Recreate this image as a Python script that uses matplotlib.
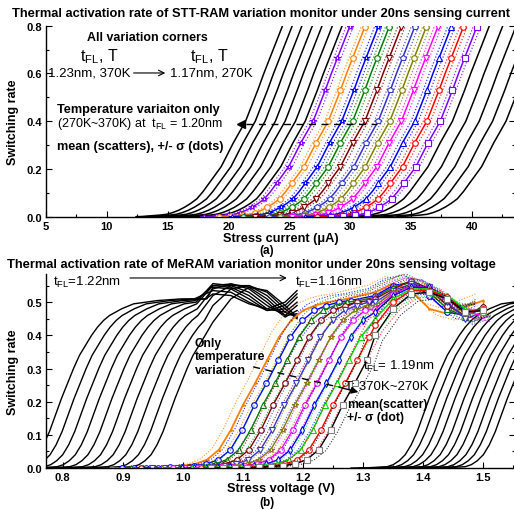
import numpy as np
import matplotlib.pyplot as plt
from matplotlib.ticker import MultipleLocator, FormatStrFormatter

plt.rcParams['font.family'] = ['Liberation Sans', 'DejaVu Sans']

# ---------------- (a) STT-RAM ----------------
# curve shape, offsets from its 0.4 crossing (uA)
a_dx = [-9.0, -8.5, -8.0, -7.5, -7.0, -6.5, -6.0, -5.5, -5.0, -4.5, -4.0, -3.5, -3.0, -2.5,
        -2.0, -1.5, -1.0, -0.5, 0.0, 0.5, 1.0, 1.5, 2.0, 2.5, 3.0, 3.5, 4.0]
a_rate = [0.0, 0.001, 0.003, 0.005, 0.007, 0.01, 0.017, 0.027, 0.04, 0.056, 0.075, 0.105, 0.14, 0.175,
          0.21, 0.26, 0.31, 0.355, 0.40, 0.465, 0.53, 0.60, 0.665, 0.73, 0.795, 0.86, 0.92]
# current where each curve crosses 0.4
a_black_left = [21.4, 22.2, 23.0, 23.85, 24.65, 25.5, 26.3]
a_black_right = [38.4, 39.5, 40.6, 41.7, 42.8]
a_temp_mid = [26.95, 28.2, 29.3, 30.2, 31.2, 32.3, 33.25, 34.2, 35.3, 36.3, 37.4]
a_sigma = 0.3
a_colors = ['#8000FF', '#FF8000', '#0000FF', '#008000', '#800000', '#3333CC',
            '#808000', '#FF00FF', '#0000FF', '#FF0000', '#8000FF']
a_markers = ['*', 'o', '*', 'o', 'v', 'p', 'o', 'v', '^', 'o', 's']

# ---------------- (b) MeRAM ----------------
# black curve shape, offsets from 0.3 crossing (V)
b_dx = [-0.15, -0.12, -0.09, -0.08, -0.07, -0.06, -0.05, -0.04, -0.03, -0.02, -0.01, 0.0,
        0.01, 0.02, 0.03, 0.04, 0.05, 0.06, 0.08, 0.10, 0.12, 0.14, 0.18, 0.22]
b_rate = [0.0, 0.001, 0.004, 0.01, 0.022, 0.04, 0.07, 0.11, 0.16, 0.21, 0.255, 0.30,
          0.34, 0.37, 0.40, 0.425, 0.445, 0.46, 0.48, 0.495, 0.50, 0.505, 0.51, 0.51]
b_black_left = [0.818, 0.839, 0.860, 0.881, 0.902, 0.923, 0.944, 0.965, 0.986, 1.007]
b_black_right = [1.430, 1.444, 1.459, 1.473, 1.488, 1.502, 1.516, 1.531, 1.545, 1.560]
b_knot_x = [1.05, 1.08, 1.11, 1.14, 1.17, 1.19]
b_tail_0 = [0.525, 0.52, 0.495, 0.48, 0.50, 0.535]
b_tail_1 = [0.535, 0.53, 0.50, 0.475, 0.49, 0.525]
b_tail_2 = [0.545, 0.54, 0.51, 0.475, 0.48, 0.515]
b_tail_3 = [0.55, 0.545, 0.52, 0.48, 0.47, 0.50]
b_tail_4 = [0.556, 0.55, 0.53, 0.49, 0.46, 0.49]
b_tail_5 = [0.55, 0.555, 0.54, 0.50, 0.455, 0.475]
b_tail_6 = [0.54, 0.555, 0.545, 0.51, 0.46, 0.465]
b_tail_7 = [0.52, 0.55, 0.55, 0.52, 0.47, 0.455]
b_tail_8 = [0.49, 0.54, 0.55, 0.53, 0.48, 0.45]
b_tail_9 = [0.44, 0.51, 0.545, 0.535, 0.49, 0.455]
b_tails = [b_tail_0, b_tail_1, b_tail_2, b_tail_3, b_tail_4,
           b_tail_5, b_tail_6, b_tail_7, b_tail_8, b_tail_9]

# temperature-only curves: rise offsets from 0.25 crossing, then their own tails
c_dx = [-0.24, -0.22, -0.20, -0.18, -0.16, -0.14, -0.12, -0.10, -0.08, -0.06,
        -0.04, -0.02, 0.0, 0.02, 0.04, 0.06, 0.08, 0.10, 0.12, 0.14]
c_rate = [0.0, 0.0, 0.0, 0.001, 0.002, 0.004, 0.007, 0.012, 0.025, 0.055,
          0.115, 0.19, 0.255, 0.325, 0.395, 0.445, 0.475, 0.49, 0.50, 0.505]
c_mid = [1.120, 1.139, 1.153, 1.170, 1.189, 1.206, 1.223, 1.239, 1.256, 1.270, 1.286]
c_knot_x = [1.32, 1.35, 1.38, 1.41, 1.44, 1.47, 1.50]
c_tails = [
    [0.53, 0.556, 0.535, 0.48, 0.465, 0.485, 0.505],
    [0.52, 0.55, 0.56, 0.52, 0.47, 0.46, 0.48],
    [0.515, 0.545, 0.56, 0.53, 0.48, 0.455, 0.49],
    [0.51, 0.54, 0.565, 0.54, 0.49, 0.46, 0.485],
    [0.50, 0.535, 0.555, 0.545, 0.50, 0.45, 0.47],
    [0.49, 0.53, 0.55, 0.54, 0.51, 0.465, 0.48],
    [0.48, 0.525, 0.55, 0.545, 0.51, 0.47, 0.46],
    [0.47, 0.52, 0.545, 0.545, 0.515, 0.475, 0.475],
    [0.45, 0.51, 0.54, 0.54, 0.52, 0.48, 0.47],
    [0.43, 0.50, 0.535, 0.535, 0.515, 0.47, 0.48],
    [0.40, 0.48, 0.525, 0.53, 0.51, 0.47, 0.475],
]
c_colors = ['#FF8000', '#0000FF', '#008000', '#800000', '#3333CC', '#808000',
            '#FF00FF', '#0000FF', '#00DD00', '#FF0000', '#000000']
c_markers = ['.', 'o', '^', 'o', 'v', '*', 'o', 'd', '^', 'o', 's']


def shifted(dx, rate, x0):
    return np.asarray(dx) + x0, np.asarray(rate)


def joined(dx, rate, x0, knot_x, knot_y):
    x = np.asarray(dx) + x0
    keep = x < knot_x[0] - 0.008
    return np.r_[x[keep], knot_x], np.r_[np.asarray(rate)[keep], knot_y]


fig = plt.figure(figsize=(5.14, 5.10), dpi=100)
ax1 = fig.add_axes([46 / 514, 1 - 217.7 / 510, (515 - 46) / 514, (217.7 - 26.7) / 510])
ax2 = fig.add_axes([46 / 514, 1 - 469 / 510, (515 - 46) / 514, (469 - 275) / 510])

# ---- (a) ----
for x0 in a_black_left + a_black_right:
    x, y = shifted(a_dx, a_rate, x0)
    ax1.plot(x, y, color='black', lw=1.1)
for x0, c, m in zip(a_temp_mid, a_colors, a_markers):
    x, y = shifted(a_dx, a_rate, x0)
    ax1.plot(x - a_sigma, y, ls=(0, (1, 1.5)), color=c, lw=0.9, alpha=0.8)
    ax1.plot(x + a_sigma, y, ls=(0, (1, 1.5)), color=c, lw=0.9, alpha=0.8)
    ax1.plot(x, y, color=c, lw=1.1, marker=m, ms=4, mfc='white', mec=c, mew=0.8, markevery=2)

ax1.set_xlim(5, 43.54)
ax1.set_ylim(0, 0.8)
ax1.xaxis.set_major_locator(MultipleLocator(5))
ax1.xaxis.set_minor_locator(MultipleLocator(2.5))
ax1.yaxis.set_major_locator(MultipleLocator(0.2))
ax1.yaxis.set_minor_locator(MultipleLocator(0.1))
ax1.yaxis.set_major_formatter(FormatStrFormatter('%.1f'))
ax1.set_xlabel('Stress current (\u03bcA)', fontsize=9.2, fontweight='bold', labelpad=1)
ax1.set_ylabel('Switching rate', fontsize=9, fontweight='bold')

ax1.text(13.3, 0.753, 'All variation corners', fontsize=8.9, fontweight='bold', ha='center', va='center')
ax1.text(7.8, 0.673, r'$\mathregular{t_{FL}}$, T', fontsize=11.5, va='center')
ax1.text(16.8, 0.673, r'$\mathregular{t_{FL}}$, T', fontsize=11.5, va='center')
ax1.text(5.15, 0.602, '1.23nm, 370K', fontsize=9.5, va='center')
ax1.annotate('', xy=(14.8, 0.602), xytext=(12.2, 0.602),
             arrowprops=dict(arrowstyle='->', lw=0.8, color='black', shrinkA=0, shrinkB=0))
ax1.text(15.2, 0.602, '1.17nm, 270K', fontsize=9.5, va='center')
ax1.text(5.9, 0.451, 'Temperature variaiton only', fontsize=9.2, fontweight='bold', va='center')
ax1.text(5.9, 0.392, r'(270K~370K) at  $\mathregular{t_{FL}}$ = 1.20nm', fontsize=9, va='center')
ax1.text(5.9, 0.296, 'mean (scatters), +/- \u03c3 (dots)', fontsize=9.1, fontweight='bold', va='center')
ax1.plot([21.4, 32.2], [0.39, 0.39], ls=(0, (5, 4)), color='black', lw=1, zorder=5)
ax1.plot([21.0], [0.39], marker='<', color='black', ms=6, zorder=5)

# ---- (b) ----
for x0, tail in zip(b_black_left, b_tails):
    x, y = joined(b_dx, b_rate, x0, b_knot_x, tail)
    ax2.plot(x, y, color='black', lw=1.0)
for x0 in b_black_right:
    x, y = shifted(b_dx, b_rate, x0)
    ax2.plot(x, y, color='black', lw=1.0)
for x0, tail, c, m in zip(c_mid, c_tails, c_colors, c_markers):
    x, y = joined(c_dx, c_rate, x0, c_knot_x, tail)
    ax2.plot(x - 0.012, y * 1.04, ls=(0, (1, 1.5)), color=c, lw=0.8, alpha=0.8)
    ax2.plot(x + 0.012, y * 0.96, ls=(0, (1, 1.5)), color=c, lw=0.8, alpha=0.8)
    mec = '#808080' if c == '#000000' else c
    ax2.plot(x, y, color=c, lw=1.3 if m == '.' else 1.0, marker=m, ms=2.5 if m == '.' else 4,
             mfc='white' if m != '.' else c, mec=mec, mew=0.8)

ax2.set_xlim(0.7722, 1.5527)
ax2.set_ylim(0, 0.585)
ax2.xaxis.set_major_locator(MultipleLocator(0.1))
ax2.xaxis.set_minor_locator(MultipleLocator(0.05))
ax2.yaxis.set_major_locator(MultipleLocator(0.1))
ax2.yaxis.set_minor_locator(MultipleLocator(0.05))
ax2.xaxis.set_major_formatter(FormatStrFormatter('%.1f'))
ax2.yaxis.set_major_formatter(FormatStrFormatter('%.1f'))
ax2.set_xlabel('Stress voltage (V)', fontsize=9.2, fontweight='bold', labelpad=0)
ax2.set_ylabel('Switching rate', fontsize=9, fontweight='bold')

ax2.text(0.784, 0.564, r'$\mathregular{t_{FL}}$=1.22nm', fontsize=9.5, va='center')
ax2.annotate('', xy=(1.173, 0.573), xytext=(0.912, 0.573),
             arrowprops=dict(arrowstyle='->', lw=0.8, color='black', shrinkA=0, shrinkB=0))
ax2.text(1.187, 0.564, r'$\mathregular{t_{FL}}$=1.16nm', fontsize=9.5, va='center')
ax2.text(1.020, 0.395, 'Only\ntemperature\nvariation', fontsize=8.7, fontweight='bold',
         va='top', linespacing=1.15)
ax2.plot([1.117, 1.280], [0.305, 0.235], ls=(0, (5, 4)), color='black', lw=1, zorder=5)
ax2.annotate('', xy=(1.292, 0.229), xytext=(1.270, 0.239),
             arrowprops=dict(arrowstyle='-|>', lw=1, color='black', mutation_scale=10,
                             shrinkA=0, shrinkB=0), zorder=5)
ax2.text(1.300, 0.308, r'$\mathregular{t_{FL}}$= 1.19nm', fontsize=9.5, va='center')
ax2.text(1.270, 0.247, 'T: 370K~270K', fontsize=9.5, va='center')
ax2.text(1.273, 0.193, 'mean(scatter)', fontsize=8.8, fontweight='bold', va='center')
ax2.text(1.273, 0.154, '+/- \u03c3 (dot)', fontsize=8.8, fontweight='bold', va='center')

for ax in (ax1, ax2):
    ax.spines['top'].set_visible(False)
    for s in ('left', 'bottom', 'right'):
        ax.spines[s].set_linewidth(1.0)
    ax.tick_params(which='both', direction='in', top=False, right=True, width=0.8,
                   labelsize=8, pad=3)
    ax.tick_params(which='major', length=4)
    ax.tick_params(which='minor', length=2.5)
    for lab in ax.get_xticklabels() + ax.get_yticklabels():
        lab.set_fontweight('bold')
    ax.yaxis.set_label_coords(-0.058, 0.5)

fig.text(0.508, 1 - 14 / 510, 'Thermal activation rate of STT-RAM variation monitor under 20ns sensing current',
         ha='center', va='center', fontsize=9.3, fontweight='bold')
fig.text(0.489, 1 - 265 / 510, 'Thermal activation rate of MeRAM variation monitor under 20ns sensing voltage',
         ha='center', va='center', fontsize=9.3, fontweight='bold')
fig.text(267 / 514, 1 - 251 / 510, '(a)', ha='center', va='center', fontsize=8.5, fontweight='bold')
fig.text(267 / 514, 1 - 503 / 510, '(b)', ha='center', va='center', fontsize=8.5, fontweight='bold')

fig.savefig('out.png', dpi=100)
